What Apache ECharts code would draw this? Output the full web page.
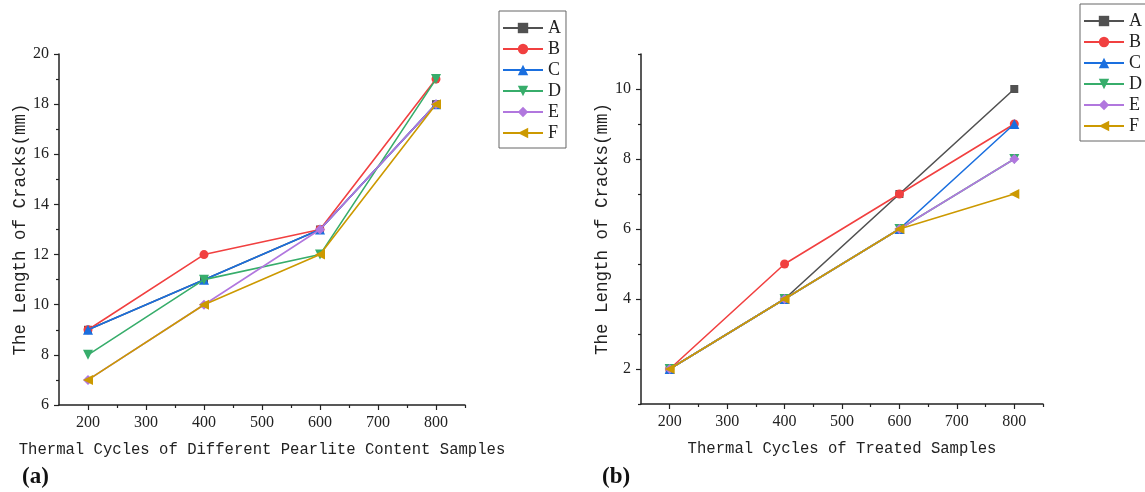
<!DOCTYPE html>
<html>
<head>
<meta charset="utf-8">
<script src="https://cdn.jsdelivr.net/npm/echarts@6/dist/echarts.min.js"></script>
<style>
  html, body { margin: 0; padding: 0; background: #fff; }
  #chart { width: 1145px; height: 492px; }
</style>
</head>
<body>
<div id="chart"></div>
<script>
// Thermal cycle counts (shared x values)
const cycles = [200, 400, 600, 800];
const seriesNames = ['A', 'B', 'C', 'D', 'E', 'F'];

// Panel (a): different pearlite content samples, crack length (mm)
const crackA_a = [9, 11, 13, 18];
const crackB_a = [9, 12, 13, 19];
const crackC_a = [9, 11, 13, 18];
const crackD_a = [8, 11, 12, 19];
const crackE_a = [7, 10, 13, 18];
const crackF_a = [7, 10, 12, 18];

// Panel (b): treated samples, crack length (mm)
const crackA_b = [2, 4, 7, 10];
const crackB_b = [2, 5, 7, 9];
const crackC_b = [2, 4, 6, 9];
const crackD_b = [2, 4, 6, 8];
const crackE_b = [2, 4, 6, 8];
const crackF_b = [2, 4, 6, 7];

// Tick positions
const xMajorTicks = [200, 300, 400, 500, 600, 700, 800];
const xMinorTicks = [250, 350, 450, 550, 650, 750, 850];
const yMajorTicks_a = [6, 8, 10, 12, 14, 16, 18, 20];
const yMinorTicks_a = [7, 9, 11, 13, 15, 17, 19];
const yMajorTicks_b = [2, 4, 6, 8, 10];
const yMinorTicks_b = [1, 3, 5, 7, 9, 11];

const panelA = [crackA_a, crackB_a, crackC_a, crackD_a, crackE_a, crackF_a];
const panelB = [crackA_b, crackB_b, crackC_b, crackD_b, crackE_b, crackF_b];

const colors = ['#515151', '#F14040', '#1A6FDF', '#37AD6B', '#B177DE', '#CC9900'];
const symbols = [
  'rect',
  'circle',
  'triangle',
  'path://M0,0 L10,0 L5,9 Z',
  'diamond',
  'path://M0,5 L9,0 L9,10 Z'
];
const symbolSizes = [8, 9, 10, 10, 10, 10];

const axisColor = '#222';
const tickFont = { fontFamily: 'Liberation Serif', fontSize: 16, color: '#222' };
const xTitleFont = { fontFamily: 'Liberation Mono', fontSize: 15.6, color: '#222' };
const yTitleFont = { fontFamily: 'Liberation Mono', fontSize: 17.5, color: '#222' };

function mainX(gridIndex, name) {
  return {
    type: 'value', gridIndex, min: 150, max: 850, position: 'bottom',
    name, nameLocation: 'middle', nameGap: 37, nameTextStyle: xTitleFont,
    splitLine: { show: false },
    axisLine: { show: true, lineStyle: { color: axisColor, width: 1.5 } },
    axisTick: { show: true, customValues: xMajorTicks, length: 5, lineStyle: { color: axisColor, width: 1.2 } },
    axisLabel: { customValues: xMajorTicks, margin: 10, ...tickFont }
  };
}
function minorX(gridIndex) {
  return {
    type: 'value', gridIndex, min: 150, max: 850, position: 'bottom',
    splitLine: { show: false },
    axisLine: { show: false },
    axisTick: { show: true, customValues: xMinorTicks, length: 3, lineStyle: { color: axisColor, width: 1.2 } },
    axisLabel: { show: false }
  };
}
function mainY(gridIndex, min, max, ticks, gap) {
  return {
    type: 'value', gridIndex, min, max, position: 'left',
    name: 'The Length of Cracks(mm)', nameLocation: 'middle', nameGap: gap,
    nameTextStyle: yTitleFont,
    splitLine: { show: false },
    axisLine: { show: true, lineStyle: { color: axisColor, width: 1.5 } },
    axisTick: { show: true, customValues: ticks, length: 5, lineStyle: { color: axisColor, width: 1.2 } },
    axisLabel: { customValues: ticks, margin: 10, ...tickFont }
  };
}
function minorY(gridIndex, min, max, ticks) {
  return {
    type: 'value', gridIndex, min, max, position: 'left',
    splitLine: { show: false },
    axisLine: { show: false },
    axisTick: { show: true, customValues: ticks, length: 3, lineStyle: { color: axisColor, width: 1.2 } },
    axisLabel: { show: false }
  };
}

function buildSeries(panel, axisIdx) {
  return panel.map((vals, i) => ({
    name: seriesNames[i],
    type: 'line',
    xAxisIndex: axisIdx,
    yAxisIndex: axisIdx,
    data: cycles.map((c, k) => [c, vals[k]]),
    symbol: symbols[i],
    symbolSize: symbolSizes[i],
    showAllSymbol: true,
    itemStyle: { color: colors[i] },
    lineStyle: { color: colors[i], width: 1.6 },
    emphasis: { disabled: true },
    z: 2 + i
  }));
}

function legend(left, top) {
  return {
    orient: 'vertical', left, top,
    data: seriesNames.map(n => ({ name: n })),
    itemWidth: 40, itemHeight: 13, itemGap: 3,
    padding: [8, 5, 6, 3],
    borderColor: '#666', borderWidth: 1,
    textStyle: { fontFamily: 'Liberation Serif', fontSize: 18, color: '#222' },
    selectedMode: false
  };
}

const chart = echarts.init(document.getElementById('chart'), null, { renderer: 'canvas' });
chart.setOption({
  animation: false,
  backgroundColor: '#fff',
  grid: [
    { left: 59, top: 54, width: 406, height: 351 },
    { left: 641, top: 54, width: 402, height: 350 }
  ],
  xAxis: [
    mainX(0, 'Thermal Cycles of Different Pearlite Content Samples'),
    mainX(1, 'Thermal Cycles of Treated Samples'),
    minorX(0),
    minorX(1)
  ],
  yAxis: [
    mainY(0, 6, 20, yMajorTicks_a, 30),
    mainY(1, 1, 11, yMajorTicks_b, 30),
    minorY(0, 6, 20, yMinorTicks_a),
    minorY(1, 1, 11, yMinorTicks_b)
  ],
  legend: [legend(499, 11), legend(1080, 4)],
  graphic: [
    { type: 'text', left: 22, top: 466, style: { text: '(a)', font: 'bold 23px "Liberation Serif"', fill: '#111' } },
    { type: 'text', left: 602, top: 466, style: { text: '(b)', font: 'bold 23px "Liberation Serif"', fill: '#111' } }
  ],
  series: [...buildSeries(panelA, 0), ...buildSeries(panelB, 1)]
});
</script>
</body>
</html>
